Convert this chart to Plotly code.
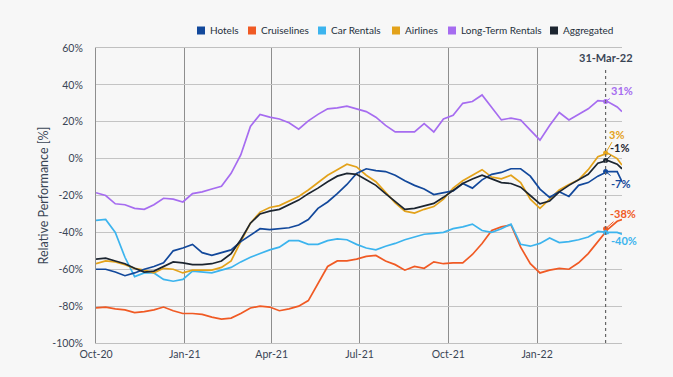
import pandas as pd
import plotly.graph_objects as go

# ---------------- data ----------------
dates = list(pd.date_range("2020-10-01", periods=55, freq="10D")) + [pd.Timestamp("2022-03-30")]

series_names = ["Hotels", "Cruiselines", "Car Rentals", "Airlines", "Long-Term Rentals", "Aggregated"]
series_colors = ["#12489b", "#f05a24", "#3cb4ee", "#e3a21a", "#a66cf0", "#1c2530"]

hotels = [-60, -60, -61.5, -63.5, -62, -60, -58.5, -56.5, -50, -48.5, -46.5, -51, -52.5, -51, -49.5,
          -45, -41.5, -38, -38.5, -38, -37.5, -36, -33, -27, -23.5, -19, -14, -8, -5.5,
          -6.5, -7, -9, -12, -14.5, -16.5, -19.5, -18.5, -17.5, -13.5, -16, -11.5, -8.5, -7.5,
          -5.5, -5.5, -9.5, -16.5, -21, -18, -20.5, -14.5, -13, -9.5, -7, -7, -12.5]
cruiselines = [-81, -80.5, -81.5, -82, -83.5, -83, -82, -80.5, -82.5, -84, -84, -84.5, -86, -87, -86.5,
               -84, -81, -80, -80.5, -82.5, -81.5, -80, -77, -68, -58.5, -55.5, -55.5, -54.5, -53,
               -52.5, -55.5, -57.5, -60.5, -58.5, -59.5, -56, -57, -56.5, -56.5, -52, -46, -39, -37,
               -36, -48, -57, -62, -60.5, -59.5, -60, -56.5, -51.5, -45, -38.5, -34, -33]
car_rentals = [-33.5, -33, -40, -53.5, -64, -62, -62, -65.5, -66.5, -65.5, -61, -61.5, -62, -60.5, -59,
               -56, -53.5, -51.5, -49.5, -48, -44.5, -44.5, -46.5, -46.5, -44.5, -43.5, -44, -46.5, -48.5,
               -49.5, -47.5, -46, -44, -42.5, -41, -40.5, -40, -38, -37, -35.5, -39, -40, -38,
               -35.5, -46.5, -47.5, -46, -43, -45.5, -45, -44, -42.5, -39.5, -40, -40, -41]
airlines = [-57, -55.5, -56, -57.5, -59.5, -60.5, -62, -59.5, -60, -62, -60.5, -60.5, -60.5, -59, -55.5,
            -45, -35, -29, -26.5, -25.5, -23, -20.5, -17, -13, -9, -6, -3, -4.5, -9,
            -12.5, -18.5, -24, -28.5, -29.5, -27.5, -26, -22, -16, -12, -9, -6, -10, -11,
            -9, -13, -22, -27, -22, -17, -14, -11.5, -6, 1, 3, 0, -3.5]
long_term_rentals = [-18.5, -20, -24.5, -25, -27, -27.5, -25, -21.5, -22, -23.5, -19, -18, -16.5, -15, -8,
                     2, 17.5, 24, 22.5, 21.5, 19.5, 16, 20.5, 24, 27, 27.5, 28.5, 27, 25.5,
                     22.5, 18, 14.5, 14.5, 14.5, 19, 14.5, 21.5, 23.5, 30, 31, 34.5, 28, 21,
                     22, 21, 15.5, 10, 18, 25, 21, 24, 27, 31.5, 31, 28, 25.5]
aggregated = [-54.5, -54, -55.5, -57, -59.5, -61.5, -61, -58.5, -56, -56.5, -57.5, -57.5, -57, -55.5, -51.5,
              -44, -35, -30, -28.5, -27.5, -25, -22.5, -19, -16, -12.5, -9.5, -8, -8.5, -11.5,
              -14.5, -19, -23, -27.5, -27, -25.5, -24.3, -21, -17, -13.5, -11, -9, -11, -13,
              -13.5, -15.5, -20, -24.5, -23, -18, -14.5, -11.5, -8.5, -2.5, -1, -3, -5.5]
series_values = [hotels, cruiselines, car_rentals, airlines, long_term_rentals, aggregated]

# values highlighted at the reference date (label text / dot position)
ref_date = "2022-03-13"
ref_label = "31-Mar-22"
ref_values = [-7, -38, -40, 3, 31, -1]
# label offsets (px) from each dot
label_dx = [15, 17, 18, 11, 16, 14]
label_dy = [12, -15, 8, -19, -11, -13]

tick_dates = ["2020-10-01", "2021-01-01", "2021-04-01", "2021-07-01", "2021-10-01", "2022-01-01"]
tick_labels = ["Oct-20", "Jan-21", "Apr-21", "Jul-21", "Oct-21", "Jan-22"]
y_ticks = [-100, -80, -60, -40, -20, 0, 20, 40, 60]
y_tick_labels = [f"{v}%" for v in y_ticks]

# ---------------- figure ----------------
FONT = "Lato, 'Open Sans', sans-serif"
TXT = "#3a4555"
BG = "#f7f7f7"

fig = go.Figure()
draw_order = [4, 1, 2, 3, 0, 5]
for i in draw_order:
    fig.add_trace(go.Scatter(
        x=dates, y=series_values[i], mode="lines", name=series_names[i],
        line=dict(color=series_colors[i], width=1.7), showlegend=False,
    ))

# dots at reference date
for i in range(len(series_names)):
    fig.add_trace(go.Scatter(
        x=[ref_date], y=[ref_values[i]], mode="markers",
        marker=dict(color=series_colors[i], size=5), showlegend=False, hoverinfo="skip",
    ))
    fig.add_annotation(
        x=ref_date, y=ref_values[i], text=f"<b>{ref_values[i]}%</b>",
        showarrow=True, arrowhead=0, arrowwidth=1, arrowcolor=series_colors[i],
        ax=label_dx[i], ay=label_dy[i], axref="pixel", ayref="pixel",
        font=dict(family=FONT, size=11, color=series_colors[i]),
        standoff=0, startstandoff=0,
    )

# dotted reference line (starts a little below the top of the plot)
fig.add_shape(type="line", xref="x", yref="y", x0=ref_date, x1=ref_date,
              y0=-100, y1=49, line=dict(color="#666666", width=1.2, dash="dot"))
fig.add_annotation(x=ref_date, y=55, xref="x", yref="y", text=f"<b>{ref_label}</b>",
                   showarrow=False, yanchor="middle",
                   font=dict(family=FONT, size=11, color=TXT))

# custom legend (square swatches + labels)
plot_l, plot_w, plot_b, plot_h = 96, 526, 343, 295
legend_sq_px = [201, 252, 322, 396, 452, 554]
legend_y = (plot_b - 30.5) / plot_h
for i, name in enumerate(series_names):
    xc = (legend_sq_px[i] - plot_l) / plot_w
    fig.add_shape(type="rect", xref="paper", yref="paper", xsizemode="pixel", ysizemode="pixel",
                  xanchor=xc, yanchor=legend_y, x0=-4, x1=4, y0=-4, y1=4,
                  fillcolor=series_colors[i], line=dict(width=0))
    fig.add_annotation(x=(legend_sq_px[i] + 7 - plot_l) / plot_w, y=legend_y, xref="paper", yref="paper",
                       text=name, showarrow=False, xanchor="left", yanchor="middle",
                       font=dict(family=FONT, size=10, color="#25303c"))

fig.update_layout(
    width=673, height=377,
    margin=dict(l=96, r=51, t=48, b=34),
    paper_bgcolor=BG, plot_bgcolor=BG,
    font=dict(family=FONT, size=11, color=TXT),
    showlegend=False,
)
fig.update_xaxes(
    type="date", range=["2020-10-01", "2022-03-30"],
    tickvals=tick_dates, ticktext=tick_labels,
    showgrid=True, gridcolor="#8e8e8e", gridwidth=1,
    showline=True, linecolor="#c0c0c0", linewidth=1, mirror=True,
    ticks="outside", ticklen=1, tickcolor="rgba(0,0,0,0)",
    tickfont=dict(family=FONT, size=10.5, color=TXT),
)
fig.update_yaxes(
    range=[-100, 60], tickvals=y_ticks, ticktext=y_tick_labels,
    showgrid=True, gridcolor="#c4c4c4", gridwidth=1, zeroline=False,
    showline=True, linecolor="#8e8e8e", linewidth=1,
    ticks="outside", ticklen=10, tickcolor="rgba(0,0,0,0)",
    tickfont=dict(family=FONT, size=10.5, color=TXT),
    title=dict(text="Relative Performance [%]", standoff=0,
               font=dict(family=FONT, size=12.5, color=TXT)),
)

fig.write_html(
    "out.html",
    config={"displayModeBar": False},
    post_script="document.body.style.margin='0';document.body.style.background='#f7f7f7';",
)
